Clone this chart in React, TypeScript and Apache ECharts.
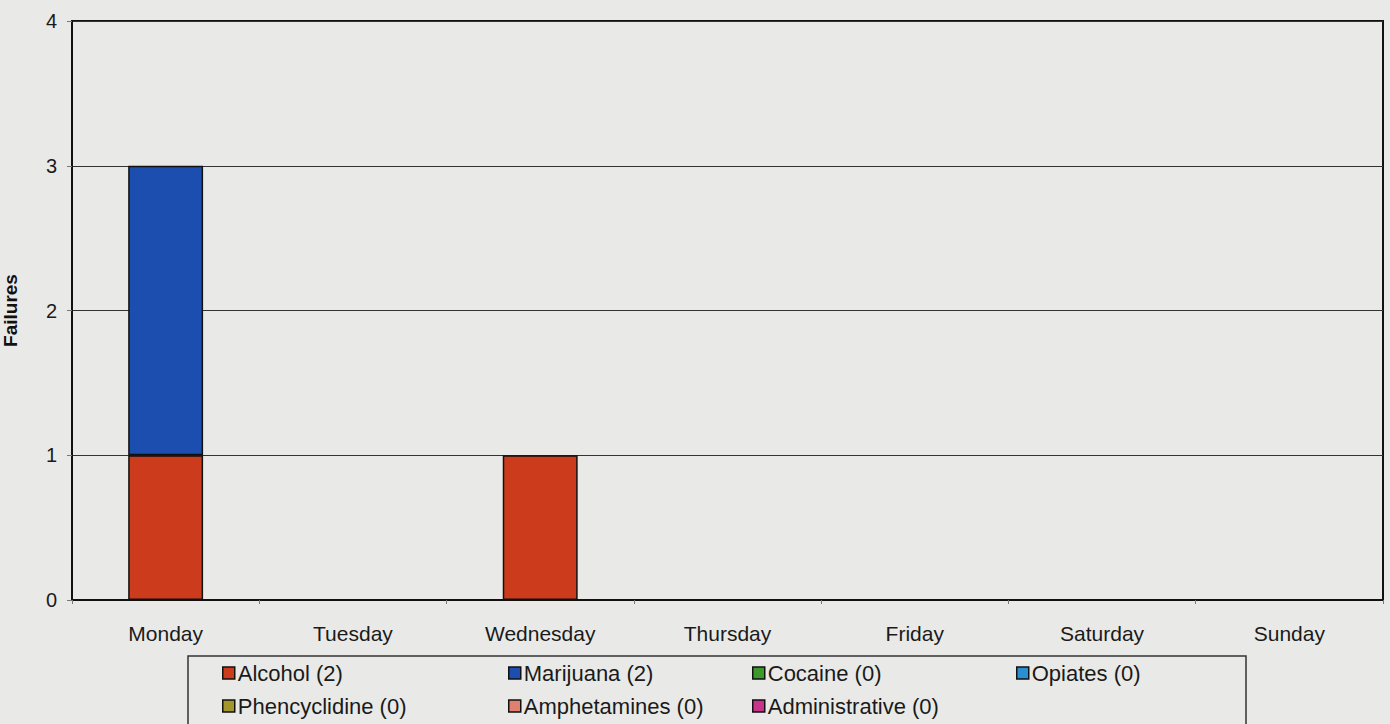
import React, { useEffect, useRef } from "react";
import * as echarts from "echarts";

const days = ["Monday", "Tuesday", "Wednesday", "Thursday", "Friday", "Saturday", "Sunday"];
const seriesNames = [
  "Alcohol (2)",
  "Marijuana (2)",
  "Cocaine (0)",
  "Opiates (0)",
  "Phencyclidine (0)",
  "Amphetamines (0)",
  "Administrative (0)",
];
const alcohol = [1, 0, 1, 0, 0, 0, 0];
const marijuana = [2, 0, 0, 0, 0, 0, 0];
const cocaine = [0, 0, 0, 0, 0, 0, 0];
const opiates = [0, 0, 0, 0, 0, 0, 0];
const phencyclidine = [0, 0, 0, 0, 0, 0, 0];
const amphetamines = [0, 0, 0, 0, 0, 0, 0];
const administrative = [0, 0, 0, 0, 0, 0, 0];
const yTicks = [0, 1, 2, 3, 4];

const seriesData = [alcohol, marijuana, cocaine, opiates, phencyclidine, amphetamines, administrative];
const colors = ["#cc3b1c", "#1b4eae", "#3d9a2a", "#2a8fd2", "#a3962a", "#e0806e", "#c8338c"];
const legendPos = [
  [222, 662],
  [508, 662],
  [752, 662],
  [1016, 662],
  [222, 695],
  [508, 695],
  [752, 695],
];

const FONT = "'Liberation Sans', Arial, sans-serif";

export default function App() {
  const ref = useRef<HTMLDivElement>(null);
  useEffect(() => {
    if (!ref.current) return;
    const chart = echarts.init(ref.current, undefined, { renderer: "svg" });
    chart.setOption({
      animation: false,
      backgroundColor: "#e9eae8",
      textStyle: { fontFamily: FONT },
      grid: {
        left: 72,
        right: 7,
        top: 21,
        bottom: 124,
        outerBoundsMode: "none",
        containLabel: false,
        show: true,
        borderColor: "#111",
        borderWidth: 2,
        backgroundColor: "transparent",
      },
      xAxis: {
        type: "category",
        data: days,
        axisLine: { lineStyle: { color: "#111", width: 2 } },
        axisTick: { show: true, length: 4, lineStyle: { color: "#777" } },
        axisLabel: { fontSize: 21, color: "#1a1a1a", margin: 23, fontFamily: FONT },
      },
      yAxis: {
        type: "value",
        min: yTicks[0],
        max: yTicks[yTicks.length - 1],
        interval: 1,
        name: "Failures",
        nameLocation: "middle",
        nameRotate: 90,
        nameGap: 52,
        nameTextStyle: { fontSize: 19, fontWeight: "bold", color: "#111", fontFamily: FONT },
        axisLine: { show: true, lineStyle: { color: "#111", width: 2 } },
        axisTick: { show: true, length: 5, lineStyle: { color: "#777" } },
        axisLabel: { fontSize: 20, color: "#1a1a1a", margin: 15, fontFamily: FONT },
        splitLine: { show: true, lineStyle: { color: "#333", width: 1 } },
      },
      legend: seriesNames.map((n, i) => ({
        data: [n],
        left: legendPos[i][0],
        top: legendPos[i][1],
        padding: 0,
        itemWidth: 12,
        itemHeight: 12,
        itemGap: 4,
        icon: "rect",
        selectedMode: false,
        textStyle: { fontSize: 22, color: "#1a1a1a", fontFamily: FONT, padding: [0, 0, 0, -2] },
        itemStyle: { borderColor: "#111", borderWidth: 1.5 },
      })),
      graphic: [
        {
          type: "rect",
          shape: { x: 188, y: 656, width: 1058, height: 80 },
          style: { fill: "none", stroke: "#333", lineWidth: 1.5 },
          silent: true,
        },
      ],
      series: seriesNames.map((n, i) => ({
        name: n,
        type: "bar",
        stack: "total",
        barWidth: "40%",
        data: seriesData[i].map((v) => (v === 0 ? null : v)),
        itemStyle: { color: colors[i], borderColor: "#111", borderWidth: 1.5 },
      })),
    });
    return () => chart.dispose();
  }, []);
  return <div ref={ref} style={{ position: "fixed", left: 0, top: 0, width: 1390, height: 724 }} />;
}
